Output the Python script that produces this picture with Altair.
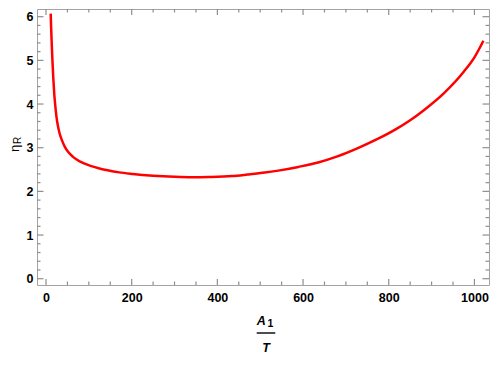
import altair as alt
import pandas as pd

# curve
x_vals = [11, 12, 13.5, 15, 17, 19.5, 22.5, 26, 32, 38, 44, 52, 63, 80, 102, 125, 141,
          171, 202, 250, 300, 341, 380, 434, 470, 511, 542, 589, 635, 680, 728, 774,
          816, 850, 882, 929, 975, 1000, 1021]
y_vals = [6.07, 5.75, 5.35, 5.0, 4.6, 4.2, 3.88, 3.6, 3.32, 3.15, 3.02, 2.9, 2.79, 2.68,
          2.59, 2.525, 2.49, 2.435, 2.4, 2.36, 2.335, 2.325, 2.33, 2.35, 2.385, 2.43,
          2.475, 2.56, 2.66, 2.8, 2.99, 3.2, 3.42, 3.63, 3.86, 4.25, 4.74, 5.07, 5.45]

x_major = [0, 200, 400, 600, 800, 1000]
x_minor = [50, 100, 150, 250, 300, 350, 450, 500, 550, 650, 700, 750, 850, 900, 950]
y_major = [0, 1, 2, 3, 4, 5, 6]
y_minor = [round(i * 0.2, 1) for i in range(1, 31) if i % 5 != 0]

x_title_top = ["A"]
x_title_sub = ["1"]
x_title_bottom = ["T"]
y_title_main = ["η"]
y_title_sub = ["R"]

df = pd.DataFrame({"x": x_vals, "y": y_vals})

GRAY = "#a3a3a3"
TICK = "#8f8f8f"
FONT = "Liberation Sans"
W, H = 452, 276
xs = alt.Scale(domain=[-21, 1034], nice=False, zero=False)
ys = alt.Scale(domain=[-0.144, 6.176], nice=False, zero=False)

lab = dict(labelFont=FONT, labelFontWeight="bold", labelFontSize=12.5,
           labelColor="black", format="d", labelFlush=False, labelOverlap=False,
           ticks=False, tickSize=0, domain=False, grid=False, title=None)
X_AXIS = alt.Axis(values=x_major, labelPadding=6, **lab)
Y_AXIS = alt.Axis(values=y_major, labelPadding=4, **lab)

main = alt.Chart(df).mark_line(
    color="#ff0000", strokeWidth=2.5, interpolate="monotone"
).encode(
    x=alt.X("x:Q", scale=xs, axis=X_AXIS, title=None),
    y=alt.Y("y:Q", scale=ys, axis=Y_AXIS, title=None),
)


def xticks(vals, length, top):
    y0, y1 = (0, length) if top else (H, H - length)
    return alt.Chart(pd.DataFrame({"x": vals})).mark_rule(
        color=TICK, strokeWidth=1.2
    ).encode(x=alt.X("x:Q", scale=xs, axis=X_AXIS, title=None),
             y=alt.value(y0), y2=alt.value(y1))


def yticks(vals, length, right):
    x0, x1 = (W, W - length) if right else (0, length)
    return alt.Chart(pd.DataFrame({"y": vals})).mark_rule(
        color=TICK, strokeWidth=1.2
    ).encode(y=alt.Y("y:Q", scale=ys, axis=Y_AXIS, title=None),
             x=alt.value(x0), x2=alt.value(x1))


ticks = [
    xticks(x_major, 6, False), xticks(x_minor, 3.5, False),
    xticks(x_major, 6, True), xticks(x_minor, 3.5, True),
    yticks(y_major, 6.5, False), yticks(y_minor, 3.5, False),
    yticks(y_major, 6.5, True), yticks(y_minor, 3.5, True),
]


def label(vals, size, x, y, italic=True, angle=0, weight="bold"):
    return alt.Chart(pd.DataFrame({"t": vals})).mark_text(
        font=FONT, fontSize=size, fontWeight=weight,
        fontStyle="italic" if italic else "normal", angle=angle,
        color="black", align="center", baseline="alphabetic" if angle == 0 else "middle"
    ).encode(text="t:N", x=alt.value(x), y=alt.value(y))


t_a = label(x_title_top, 12.5, 224.3, 316)
t_1 = label(x_title_sub, 10.5, 233.3, 317.5, italic=False)
t_bar = alt.Chart(pd.DataFrame({"t": x_title_top})).mark_rule(
    color="black", strokeWidth=1.4
).encode(x=alt.value(219.7), x2=alt.value(238.3), y=alt.value(324))
t_t = label(x_title_bottom, 12.5, 229, 342.5)
t_eta = label(y_title_main, 13, -22.5, 139.5, italic=False, angle=270, weight="normal")
t_r = label(y_title_sub, 10, -19, 131.5, italic=False, angle=270, weight="normal")

chart = alt.layer(main, *ticks, t_a, t_1, t_bar, t_t, t_eta, t_r).properties(
    width=W, height=H, autosize="none",
    padding={"left": 29, "top": 1, "right": 1, "bottom": 69},
).configure_view(stroke=GRAY, strokeWidth=1)

chart.save("out.html", embed_options={"renderer": "svg", "actions": False})
